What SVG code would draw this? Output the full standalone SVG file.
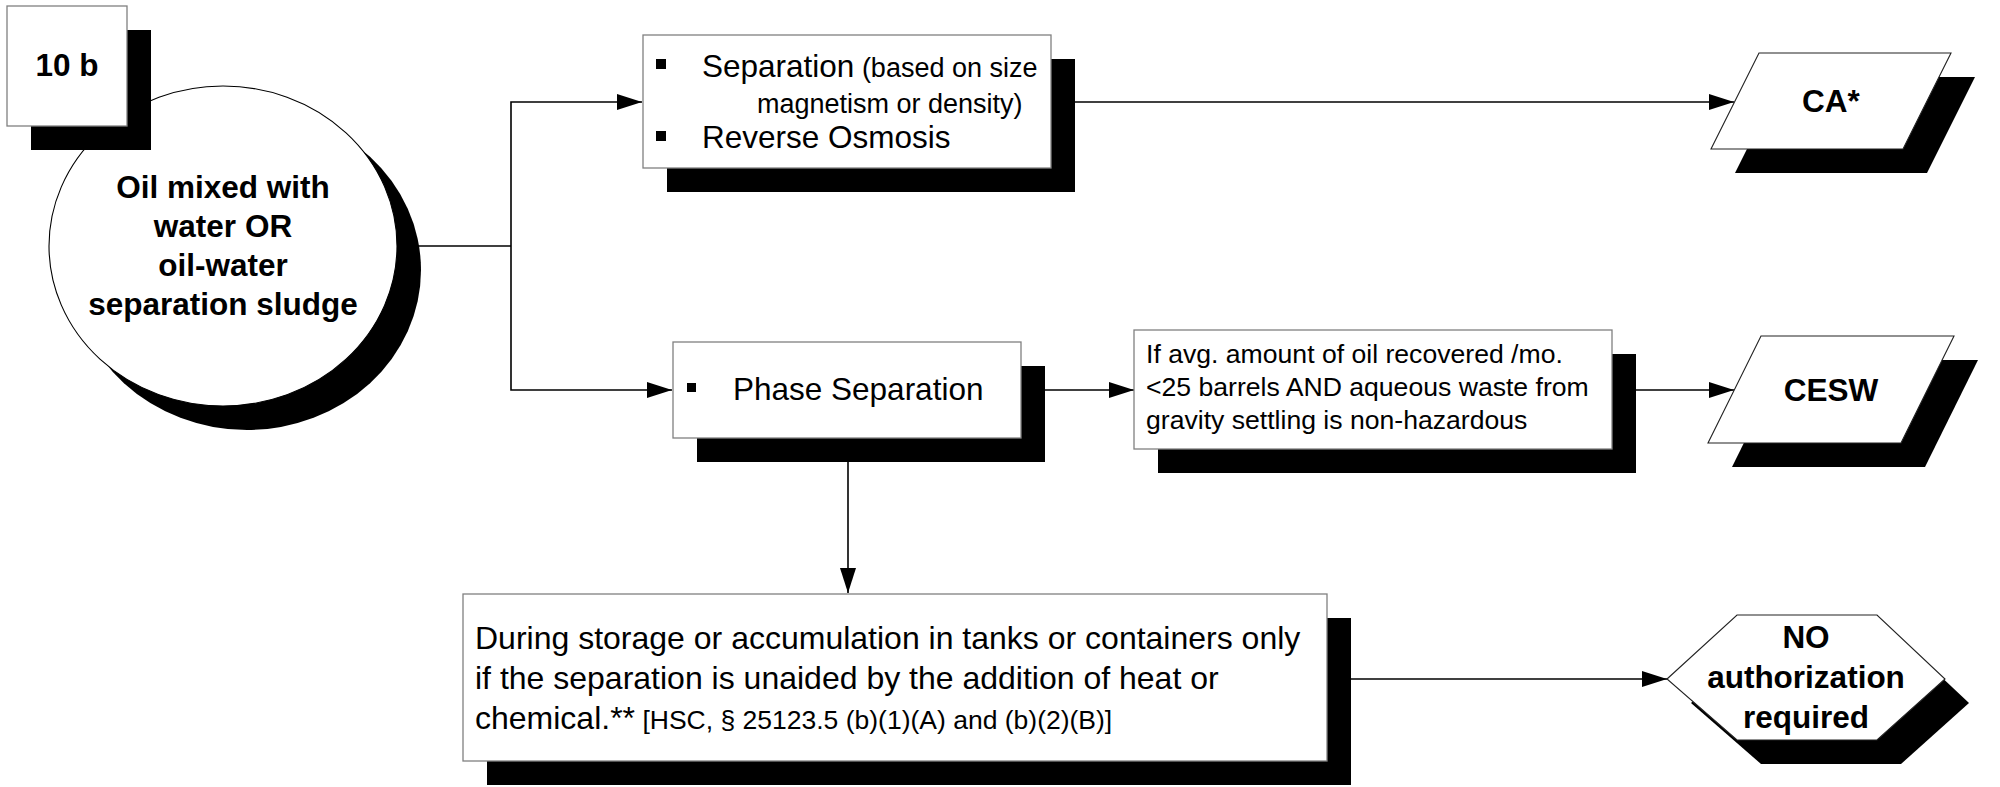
<svg xmlns="http://www.w3.org/2000/svg" width="2000" height="787" viewBox="0 0 2000 787">
<style>
.box{fill:#fff;stroke:#808080;stroke-width:1.3}
.shp{fill:#fff;stroke:#222;stroke-width:1.1}
.sh{fill:#000}
.edge{fill:none;stroke:#000;stroke-width:1.6}
text{font-family:"Liberation Sans",Arial,sans-serif;fill:#000}
.b{font-weight:bold;font-size:31.5px;text-anchor:middle}
.r{font-size:31.5px}
.rl{font-size:32px}
.s{font-size:27px}
.s2{font-size:26.5px}
.c{font-size:26.6px}
</style>
<defs>
<marker id="ah" markerWidth="25" markerHeight="16" refX="25" refY="8" orient="auto" markerUnits="userSpaceOnUse"><path d="M0,0 L25,8 L0,16 z" fill="#000"/></marker>
</defs>
<rect width="2000" height="787" fill="#fff"/>
<g id="connectors">
<path class="edge" d="M397,246 H511"/>
<path class="edge" d="M511,246 V102 H642" marker-end="url(#ah)"/>
<path class="edge" d="M511,246 V390 H672" marker-end="url(#ah)"/>
<path class="edge" d="M1051,102 H1734" marker-end="url(#ah)"/>
<path class="edge" d="M1021,390 H1134" marker-end="url(#ah)"/>
<path class="edge" d="M1612,390 H1734" marker-end="url(#ah)"/>
<path class="edge" d="M848,438 V593" marker-end="url(#ah)"/>
<path class="edge" d="M1327,679 H1667" marker-end="url(#ah)"/>
</g>
<g id="start">
<ellipse class="sh" cx="247" cy="270" rx="174" ry="160"/>
<ellipse cx="223" cy="246" rx="174" ry="160" fill="#fff" stroke="#000" stroke-width="1.1"/>
<text class="b" x="223" y="198">Oil mixed with</text>
<text class="b" x="223" y="237">water OR</text>
<text class="b" x="223" y="276">oil-water</text>
<text class="b" x="223" y="315">separation sludge</text>
</g>
<g id="label10b">
<rect class="sh" x="31" y="30" width="120" height="120"/>
<rect class="box" x="7" y="6" width="120" height="120"/>
<text class="b" x="67" y="76">10 b</text>
</g>
<g id="separation">
<rect class="sh" x="667" y="59" width="408" height="133"/>
<rect class="box" x="643" y="35" width="408" height="133"/>
<rect x="656" y="59" width="10" height="10"/>
<rect x="656" y="131" width="10" height="10"/>
<text x="702" y="77"><tspan class="r">Separation</tspan><tspan class="s"> (based on size</tspan></text>
<text class="s" x="757" y="113">magnetism or density)</text>
<text class="r" x="702" y="148">Reverse Osmosis</text>
</g>
<g id="phase">
<rect class="sh" x="697" y="366" width="348" height="96"/>
<rect class="box" x="673" y="342" width="348" height="96"/>
<rect x="687" y="383" width="9" height="9"/>
<text class="r" x="733" y="400">Phase Separation</text>
</g>
<g id="condition">
<rect class="sh" x="1158" y="354" width="478" height="119"/>
<rect class="box" x="1134" y="330" width="478" height="119"/>
<text class="c" x="1146" y="363">If avg. amount of oil recovered /mo.</text>
<text class="c" x="1146" y="396">&lt;25 barrels AND aqueous waste from</text>
<text class="c" x="1146" y="429">gravity settling is non-hazardous</text>
</g>
<g id="storage">
<rect class="sh" x="487" y="618" width="864" height="167"/>
<rect class="box" x="463" y="594" width="864" height="167"/>
<text class="rl" x="475" y="649">During storage or accumulation in tanks or containers only</text>
<text class="rl" x="475" y="689">if the separation is unaided by the addition of heat or</text>
<text x="475" y="729"><tspan class="rl">chemical.**</tspan><tspan class="s2"> [HSC, § 25123.5 (b)(1)(A) and (b)(2)(B)]</tspan></text>
</g>
<g id="ca">
<polygon class="sh" points="1783,77 1975,77 1927,173 1735,173"/>
<polygon class="shp" points="1759,53 1951,53 1903,149 1711,149"/>
<text class="b" x="1831" y="112">CA*</text>
</g>
<g id="cesw">
<polygon class="sh" points="1785,360 1978,360 1925,467 1732,467"/>
<polygon class="shp" points="1761,336 1954,336 1901,443 1708,443"/>
<text class="b" x="1831" y="401">CESW</text>
</g>
<g id="noauth">
<polygon class="sh" points="1691,703 1761,639 1901,639 1969,703 1901,764 1761,764"/>
<polygon class="shp" points="1667,679 1737,615 1877,615 1945,679 1877,740 1737,740"/>
<text class="b" x="1806" y="648">NO</text>
<text class="b" x="1806" y="688">authorization</text>
<text class="b" x="1806" y="728">required</text>
</g>
</svg>
